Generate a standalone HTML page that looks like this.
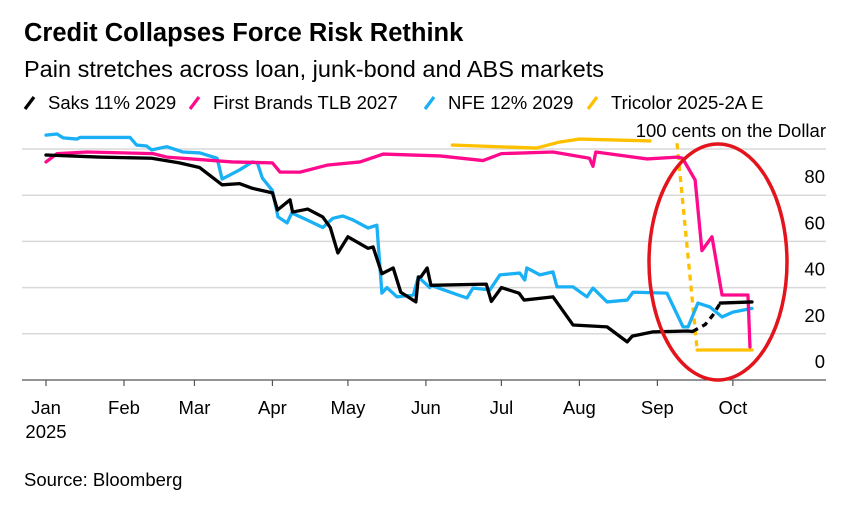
<!DOCTYPE html>
<html><head><meta charset="utf-8"><style>
body{margin:0;background:#fff;width:858px;height:502px;overflow:hidden;font-family:"Liberation Sans",sans-serif}
</style></head><body>
<svg width="858" height="502" viewBox="0 0 858 502" xmlns="http://www.w3.org/2000/svg">
<text x="24" y="41" font-size="25.5" font-weight="bold" fill="#000">Credit Collapses Force Risk Rethink</text>
<text x="24" y="77" font-size="23.5" fill="#000">Pain stretches across loan, junk-bond and ABS markets</text>
<g id="legend"></g>
<g id="grid"></g>
<g id="xaxis"></g>
<g id="yaxis"></g>
<text x="826" y="137" font-size="18.5" text-anchor="end" fill="#000">100 cents on the Dollar</text>
<g id="series"></g>
<ellipse cx="718" cy="262" rx="69" ry="118" fill="none" stroke="#e3141c" stroke-width="3.5"/>
<text x="24" y="486" font-size="18.5" fill="#000">Source: Bloomberg</text>
</svg>
<script>
const NS="http://www.w3.org/2000/svg";
const monthLabels=["Jan","Feb","Mar","Apr","May","Jun","Jul","Aug","Sep","Oct"];
const monthDays=[0,31,59,90,120,151,181,212,243,273];
const yTicks=[0,20,40,60,80,100];
const saksDays=[0,21,42,53,61,70,77,82,90,92,97,98,104,110,113,116,120,128,130,133.5,138,141,147,148,149,151.5,153,175,177,181,188,190,201.5,209.5,223,231,233,241,255,257];
const saksVals=[97.4,96.5,96,94,92,84.5,85,83,81,73.6,78,72.7,74,70.6,66,55,62,57,57.6,46,48.5,38,33.8,44.6,44.6,48.5,41,41.5,34,40,37.6,34.6,36,23.8,23,16.5,19,20.8,21.2,21];
const saksGapDays=[257,262,265,268];
const saksGapVals=[21,24,28,33.3];
const saksEndDays=[268,280.6];
const saksEndVals=[33.3,33.8];
const fbDays=[0,4.4,16.3,42.5,48,74,90,93,101,111.7,124.8,134,156.6,173.7,181,201.5,216,217.4,218.5,238.9,251,253,258,260.7,264.7,268.7,279,279.8];
const fbVals=[94.4,98,98.7,98,96.5,94.4,94,90,90,93,94.4,97.8,97,95,98,98.7,96,92.5,98.7,95.7,96.5,96,86.6,56,62,36.8,36.8,14.3];
const nfeDays=[0,4.4,6.8,12.3,13.5,33.4,36,40,42,48,54.4,61.2,68,70,77,82,84,86,90,92.2,95.8,97.7,103.7,110,114,118,122,128,131.5,133.5,135.5,139.5,146,148,152.5,153,161.8,167.3,169.7,176.4,180.4,188.3,190.3,191.1,196.3,201.5,203.1,209.5,215,217.4,223,231,233.3,246.8,253.2,255.2,259.1,263.9,268.7,273,280.6];
const nfeVals=[106,106.5,104.8,104.3,105,105,101.7,101.3,99.6,101,98.7,98.3,96,87,91,94.4,94,87.4,82,70.6,68,72.3,69.3,66,70,71,69.3,65.8,67,37.6,40,36,36.8,44.6,40,41,37.6,35.5,39.8,39,45.5,46.3,43.3,48.5,45.5,46.8,40.3,40.3,36,39.8,33.8,34.6,38,37.6,23,23,33.3,31.6,27.3,29.4,31];
const triDays=[161.5,195,204,212,240];
const triVals=[101.7,100.4,103,104.3,103.5];
const triDropDays=[250.8,258.8];
const triDropVals=[102.5,13];
const triEndDays=[258.8,280.6];
const triEndVals=[13,13];
const legendNames=["Saks 11% 2029","First Brands TLB 2027","NFE 12% 2029","Tricolor 2025-2A E"];
const legendColors=["#000000","#ff0a8c","#1ab0f5","#ffc000"];

function xs(d){return 46+d*2.516;}
function ys(v){return 380-v*2.31;}
function mk(tag,attrs,parent){const e=document.createElementNS(NS,tag);for(const k in attrs)e.setAttribute(k,attrs[k]);parent.appendChild(e);return e;}
const grid=document.getElementById('grid'),yax=document.getElementById('yaxis'),xax=document.getElementById('xaxis'),ser=document.getElementById('series'),leg=document.getElementById('legend');
yTicks.forEach((t,i)=>{
 if(t>0){const l=mk('line',{x1:22,x2:826,y1:ys(t),y2:ys(t),stroke:'#d9d9d9','stroke-width':1.5},grid);
 
 }
 if(t<100){const tx=mk('text',{x:825,y:ys(t)-12,'font-size':18.5,'text-anchor':'end',fill:'#000'},yax);tx.textContent=t;
 
 }
});
const base=mk('line',{x1:22,x2:826,y1:380,y2:380,stroke:'#555','stroke-width':1.2},xax);


monthLabels.forEach((m,i)=>{
 const x=xs(monthDays[i]);
 const tk=mk('line',{x1:x,x2:x,y1:380,y2:386,stroke:'#555','stroke-width':1.2},xax);
 
 
 const tx=mk('text',{x:x,y:414,'font-size':18.5,'text-anchor':'middle',fill:'#000'},xax);tx.textContent=m;
 
 
});
const yr=mk('text',{x:xs(0),y:438,'font-size':18.5,'text-anchor':'middle',fill:'#000'},xax);yr.textContent='2025';


function line(days,vals,color,name,dash){
 const p=mk('polyline',{points:days.map((d,i)=>xs(d)+','+ys(vals[i])).join(' '),fill:'none',stroke:color,'stroke-width':3.3,'stroke-linejoin':'round','stroke-linecap':dash?'butt':'round'},ser);
 if(dash)p.setAttribute('stroke-dasharray','6 5');
 
 
}
line(triDays,triVals,'#ffc000','tricolor-line');
line(triDropDays,triDropVals,'#ffc000','tricolor-drop-dashed',true);
line(triEndDays,triEndVals,'#ffc000','tricolor-end-line');
line(nfeDays,nfeVals,'#1ab0f5','nfe-line');
line(fbDays,fbVals,'#ff0a8c','first-brands-line');
line(saksDays,saksVals,'#000','saks-line');
line(saksGapDays,saksGapVals,'#000','saks-gap-dashed',true);
line(saksEndDays,saksEndVals,'#000','saks-end-line');
const legX=[25,190,425,588];
legendNames.forEach((n,i)=>{
 const g=mk('g',{},leg);
 
 
 mk('line',{x1:legX[i],y1:109,x2:legX[i]+9,y2:97,stroke:legendColors[i],'stroke-width':3.3},g);
 const t=mk('text',{x:legX[i]+23,y:109,'font-size':18.5,fill:'#000'},g);t.textContent=n;
});
</script>
</body></html>
